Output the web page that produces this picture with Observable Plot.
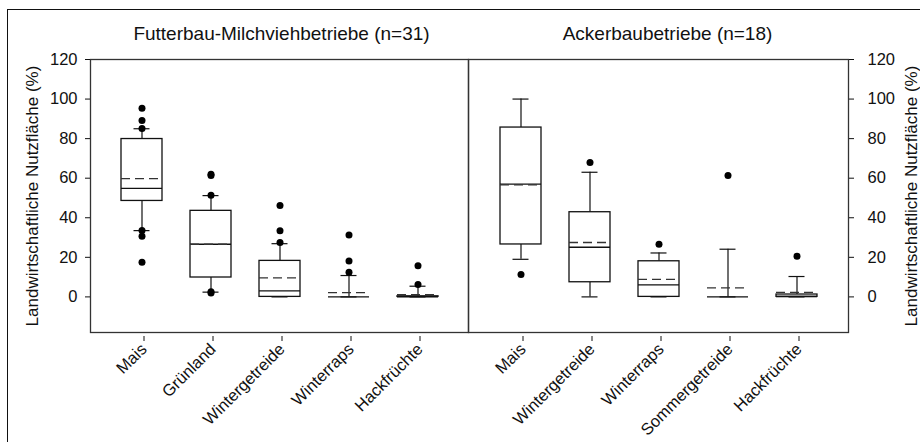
<!DOCTYPE html>
<html><head><meta charset="utf-8">
<script src="https://cdn.jsdelivr.net/npm/d3@7"></script>
<script src="https://cdn.jsdelivr.net/npm/@observablehq/plot@0.6"></script>
<style>
body{margin:0;background:#fff;}
#wrap{position:relative;width:920px;height:442px;overflow:hidden;font-family:"Liberation Sans",Arial,sans-serif;background:#fff;}
#border{position:absolute;left:7px;top:9px;width:930px;height:450px;border-left:1.5px solid #111;border-top:1.5px solid #111;}
#p1{position:absolute;left:0;top:0}
#p2{position:absolute;left:468px;top:0}
</style></head><body>
<div id="wrap"><div id="border"></div><div id="p1"></div><div id="p2"></div></div>
<script>
const titles = ["Futterbau-Milchviehbetriebe (n=31)", "Ackerbaubetriebe (n=18)"];
const yLabel = "Landwirtschaftliche Nutzfläche (%)";
const yTicks = [0, 20, 40, 60, 80, 100, 120];

// Futterbau-Milchviehbetriebe
const catsF  = ["Mais", "Grünland", "Wintergetreide", "Winterraps", "Hackfrüchte"];
const lowF   = [33.5, 2.4, 0, 0, 0];
const q1F    = [48.5, 9.8, 0, 0, 0];
const medF   = [54.9, 26.6, 3.0, 0, 0];
const q3F    = [79.8, 43.5, 18.2, 0, 0.3];
const highF  = [85.0, 51.2, 26.9, 10.8, 5.4];
const meanF  = [59.8, 26.6, 9.6, 2.2, 1.1];
const outCatF = ["Mais","Mais","Mais","Mais","Mais","Mais","Grünland","Grünland","Grünland","Grünland","Grünland","Wintergetreide","Wintergetreide","Wintergetreide","Winterraps","Winterraps","Winterraps","Hackfrüchte","Hackfrüchte"];
const outValF = [95.4, 89.2, 85.1, 33.5, 30.7, 17.5, 62.0, 61.3, 51.4, 2.6, 2.0, 46.2, 33.4, 27.5, 31.3, 18.2, 12.5, 15.8, 6.3];

// Ackerbaubetriebe
const catsA  = ["Mais", "Wintergetreide", "Winterraps", "Sommergetreide", "Hackfrüchte"];
const lowA   = [19.0, 0, 0, 0, 0];
const q1A    = [26.5, 7.4, 0, 0, 0];
const medA   = [57.0, 25.1, 6.1, 0, 0.2];
const q3A    = [85.6, 42.8, 18.0, 0, 1.2];
const highA  = [100, 63.0, 22.2, 24.1, 10.3];
const meanA  = [56.6, 27.5, 8.9, 4.6, 2.3];
const outCatA = ["Mais", "Wintergetreide", "Winterraps", "Sommergetreide", "Hackfrüchte"];
const outValA = [11.3, 67.9, 26.6, 61.3, 20.5];

const ink = "#111";

function panel(cats, low, q1, med, q3, high, mean, outCat, outVal, opts) {
  const stats = cats.map((c, i) => ({cat: c, low: low[i], q1: q1[i], med: med[i], q3: q3[i], high: high[i], mean: mean[i]}));
  const outs = outCat.map((c, i) => ({cat: c, v: outVal[i]}));
  return Plot.plot({
    width: opts.width, height: 442,
    marginLeft: opts.ml, marginRight: opts.mr, marginTop: 59, marginBottom: 110,
    style: {fontFamily: "'Liberation Sans', Arial, sans-serif", fontSize: "16.5px", color: ink, background: "transparent", overflow: "visible"},
    x: {type: "band", domain: cats, paddingInner: 0.406, paddingOuter: 0.442},
    y: {domain: [-18, 120]},
    marks: [
      Plot.ruleX(stats, {x: "cat", y1: "q3", y2: "high", stroke: ink, strokeWidth: 1.2}),
      Plot.ruleX(stats, {x: "cat", y1: "low", y2: "q1", stroke: ink, strokeWidth: 1.2}),
      Plot.barY(stats, {x: "cat", y1: "q1", y2: "q3", fill: "white", stroke: ink, strokeWidth: 1.3}),
      Plot.tickY(stats, {x: "cat", y: "med", stroke: ink, strokeWidth: 1.3}),
      Plot.tickY(stats, {x: "cat", y: "mean", stroke: "#333", strokeWidth: 1.3, strokeDasharray: "9,5"}),
      Plot.tickY(stats, {x: "cat", y: "high", stroke: ink, strokeWidth: 1.2, insetLeft: 12.5, insetRight: 12.5}),
      Plot.tickY(stats, {x: "cat", y: "low", stroke: ink, strokeWidth: 1.2, insetLeft: 12.5, insetRight: 12.5}),
      Plot.dot(outs, {x: "cat", y: "v", r: 3.5, fill: "black", stroke: "none"}),
      Plot.frame({stroke: "#333", strokeWidth: 1.3}),
      Plot.axisY({anchor: opts.yAnchor, ticks: yTicks, tickSize: 5, tickPadding: opts.tp, label: null, stroke: ink, fontSize: 16.5}),
      Plot.axisX({tickRotate: -45, tickSize: 5, tickPadding: 5, label: null, fontSize: 16.5, dx: 2, dy: 4}),
      Plot.text([opts.title], {frameAnchor: "top", lineAnchor: "middle", dy: -26, dx: opts.tdx, fontSize: 19, text: d => d, fill: ink}),
      Plot.text([yLabel], {frameAnchor: opts.yAnchor, textAnchor: "middle", rotate: -90, dx: opts.ldx, fontSize: 17, text: d => d, fill: ink})
    ]
  });
}

document.getElementById("p1").append(panel(catsF, lowF, q1F, medF, q3F, highF, meanF, outCatF, outValF,
  {width: 468, ml: 90, mr: 0, yAnchor: "left", tp: 8, title: titles[0], tdx: 2, ldx: -58}));
document.getElementById("p2").append(panel(catsA, lowA, q1A, medA, q3A, highA, meanA, outCatA, outValA,
  {width: 452, ml: 0, mr: 72, yAnchor: "right", tp: 14, title: titles[1], tdx: 9, ldx: 63}));
</script>
</body></html>
